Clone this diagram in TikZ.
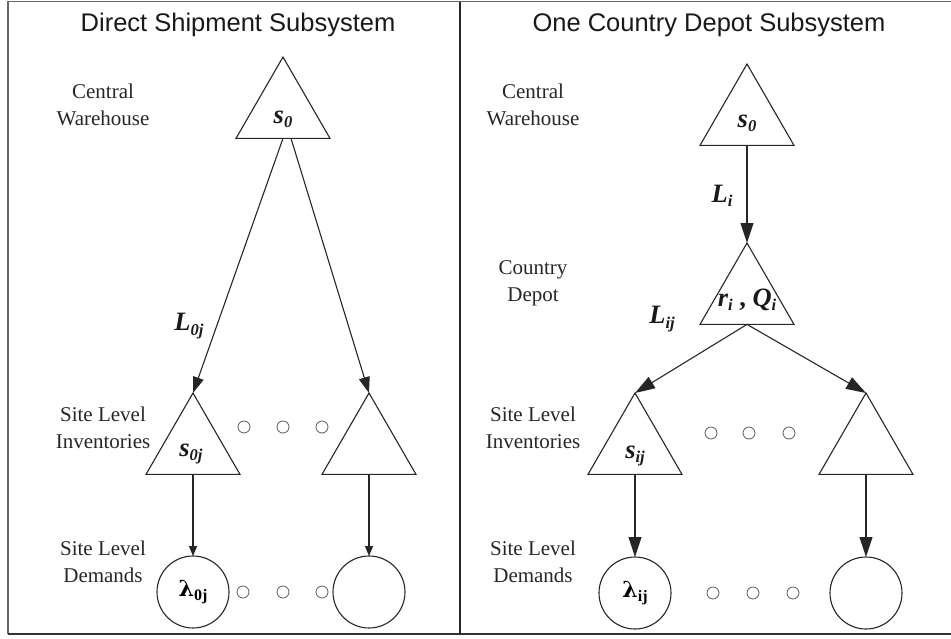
\documentclass[tikz,border=0pt]{standalone}
\usepackage{fontspec}
\setmainfont{Liberation Serif}
\newfontfamily\titlefont{Liberation Sans}
\usetikzlibrary{shapes.geometric,arrows.meta}

% bold italic symbol with a lowered index
\newcommand{\symidx}[2]{{\bfseries\itshape #1\raisebox{-0.35ex}{\fontsize{16.5}{16.5}\selectfont #2}}}
\newcommand{\lamidx}[1]{{\bfseries\fontspec{DejaVu Serif}\fontsize{22}{22}\selectfont λ\raisebox{-0.35ex}{\fontspec{Liberation Serif}\bfseries\fontsize{16}{16}\selectfont #1}}}

\begin{document}
\begin{tikzpicture}[x=1pt,y=-1pt,
  ink/.style={draw=black!85, line width=1.1pt},
  tri/.style={ink, regular polygon, regular polygon sides=3, minimum size=108.5pt, inner sep=0pt, outer sep=0pt},
  demand/.style={ink, circle, minimum size=72pt, inner sep=0pt, outer sep=0pt},
  ring/.style={draw=black!65, line width=0.8pt, circle, minimum size=12pt, inner sep=0pt},
  lvl/.style={font=\fontsize{21}{27}\selectfont, align=center, text=black!85},
  sym/.style={font=\fontsize{26.5}{26.5}\selectfont, text=black!90},
  ttl/.style={font=\titlefont\fontsize{25.5}{30}\selectfont, anchor=base, text=black!90},
  bigtip/.style={ink, -{Triangle[length=20pt,width=13pt]}},
  midtip/.style={ink, -{Triangle[length=16pt,width=11pt]}},
  smalltip/.style={ink, -{Triangle[length=10pt,width=8pt]}},
]
\useasboundingbox (0,0) rectangle (951,638);

% frame
\draw[draw=black!60, line width=1.6pt] (951,1.5) -- (8,1.5) -- (8,634);
\draw[draw=black!80, line width=1.4pt] (8,634) -- (951,634);
\draw[draw=black!85, line width=1.4pt] (460,1.5) -- (460,634);

% titles
\node[ttl] (ttlA) at (238,31) {Direct Shipment Subsystem};
\node[ttl] (ttlB) at (709,31) {One Country Depot Subsystem};

% ---------- direct shipment ----------
\node[lvl] (cwA) at (103,105) {Central\\Warehouse};
\node[lvl] (slA) at (103,428) {Site Level\\Inventories};
\node[lvl] (sdA) at (103,562) {Site Level\\Demands};

\node[tri] (whA) at (283,111.25) {};
\node[sym] at (283,119) {\symidx{s}{0}};

\node[tri] (siA1) at (193,447.25) {};
\node[sym] at (191,454) {\symidx{s}{0j}};
\node[tri] (siA2) at (369,447.25) {};

\node[demand] (dA1) at (193,592) {\lamidx{0j}};
\node[demand] (dA2) at (369,592) {};

\node[ring] (rA1) at (244,427) {};
\node[ring] (rA2) at (283,427) {};
\node[ring] (rA3) at (322,427) {};
\node[ring] (rA4) at (243,592) {};
\node[ring] (rA5) at (283,592) {};
\node[ring] (rA6) at (322,592) {};

\draw[midtip] (whA.side 2) -- (siA1.corner 1);
\draw[midtip] ([xshift=8pt]whA.side 2) -- (siA2.corner 1);
\draw[smalltip] (siA1.side 2) -- (dA1.north);
\draw[smalltip] (siA2.side 2) -- (dA2.north);

\node[sym] (lA) at (189,326) {\symidx{L}{0j}};

% ---------- country depot ----------
\node[lvl] (cwB) at (533,105) {Central\\Warehouse};
\node[lvl] (cdB) at (533,283) {Country\\Depot};
\node[lvl] (slB) at (533,428) {Site Level\\Inventories};
\node[lvl] (sdB) at (533,562) {Site Level\\Demands};

\node[tri] (whB) at (747,118.25) {};
\node[sym] at (747,123) {\symidx{s}{0}};

\node[tri] (dpB) at (747,297.25) {};
\node[sym] at (747,300) {\symidx{r}{i}\ {\bfseries ,}\ \symidx{Q}{i}};

\node[tri] (siB1) at (635,447.25) {};
\node[sym] at (635,456) {\symidx{s}{ij}};
\node[tri] (siB2) at (866,447.25) {};

\node[demand] (dB1) at (635,593) {\lamidx{ij}};
\node[demand] (dB2) at (866,593) {};

\node[ring] (rB1) at (711,433) {};
\node[ring] (rB2) at (749,433) {};
\node[ring] (rB3) at (789,433) {};
\node[ring] (rB4) at (713,593) {};
\node[ring] (rB5) at (753,593) {};
\node[ring] (rB6) at (793,593) {};

\draw[bigtip] (whB.side 2) -- (dpB.corner 1);
\draw[bigtip] (dpB.side 2) -- (siB1.corner 1);
\draw[bigtip] (dpB.side 2) -- (siB2.corner 1);
\draw[bigtip] (siB1.side 2) -- (dB1.north);
\draw[bigtip] (siB2.side 2) -- (dB2.north);

\node[sym] (lB1) at (722,196) {\symidx{L}{i}};
\node[sym] (lB2) at (662,319) {\symidx{L}{ij}};
\end{tikzpicture}
\end{document}
